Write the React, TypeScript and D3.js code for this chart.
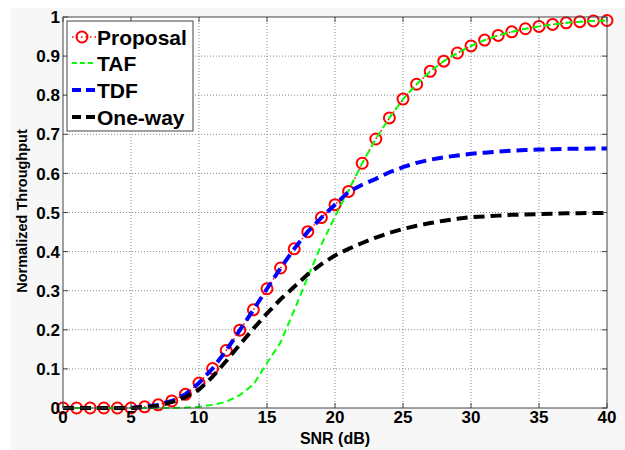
import React, { useEffect, useRef } from "react";
import * as d3 from "d3";

// SNR (dB) sample points
const snr = [
  0, 1, 2, 3, 4, 5, 6, 7, 8, 9, 10, 11, 12, 13, 14, 15, 16, 17, 18, 19, 20,
  21, 22, 23, 24, 25, 26, 27, 28, 29, 30, 31, 32, 33, 34, 35, 36, 37, 38, 39, 40,
];

const proposal = [
  0, 0, 0, 0, 0, 0, 0.003, 0.008, 0.018, 0.035, 0.064, 0.101, 0.147, 0.199,
  0.251, 0.305, 0.358, 0.407, 0.451, 0.487, 0.52, 0.554, 0.626, 0.688, 0.742,
  0.79, 0.828, 0.861, 0.887, 0.908, 0.926, 0.941, 0.953, 0.962, 0.97, 0.976,
  0.981, 0.985, 0.988, 0.99, 0.991,
];

const taf = [
  0, 0, 0, 0, 0, 0, 0, 0, 0, 0.001, 0.003, 0.008, 0.016, 0.033, 0.06, 0.115,
  0.168, 0.25, 0.335, 0.418, 0.49, 0.557, 0.626, 0.688, 0.742, 0.79, 0.828,
  0.861, 0.887, 0.908, 0.926, 0.941, 0.953, 0.962, 0.97, 0.976, 0.981, 0.985,
  0.988, 0.99, 0.991,
];

const tdf = [
  0, 0, 0, 0, 0, 0, 0.003, 0.008, 0.018, 0.035, 0.064, 0.101, 0.147, 0.199,
  0.251, 0.305, 0.358, 0.407, 0.451, 0.487, 0.52, 0.553, 0.571, 0.586, 0.603,
  0.616, 0.627, 0.635, 0.641, 0.646, 0.65, 0.653, 0.656, 0.658, 0.66, 0.661,
  0.662, 0.663, 0.663, 0.664, 0.664,
];

const oneWay = [
  0, 0, 0, 0, 0, 0, 0.002, 0.006, 0.015, 0.028, 0.047, 0.08, 0.12, 0.162,
  0.203, 0.242, 0.278, 0.31, 0.342, 0.368, 0.39, 0.407, 0.422, 0.436, 0.448,
  0.458, 0.466, 0.473, 0.479, 0.484, 0.488, 0.49, 0.492, 0.494, 0.495, 0.496,
  0.497, 0.498, 0.498, 0.499, 0.499,
];

const xTicks = [0, 5, 10, 15, 20, 25, 30, 35, 40];
const yTicks = [0, 0.1, 0.2, 0.3, 0.4, 0.5, 0.6, 0.7, 0.8, 0.9, 1];

const legendLabels = ["Proposal", "TAF", "TDF", "One-way"];

const App = () => {
  const ref = useRef<SVGSVGElement>(null);

  useEffect(() => {
    const svg = d3.select(ref.current);
    svg.selectAll("*").remove();
    const width = 625;
    const height = 450;
    const m = { left: 63, top: 17, right: 18, bottom: 42 };
    const w = width - m.left - m.right;
    const h = height - m.top - m.bottom;
    const font = "'Liberation Sans', Arial, sans-serif";
    const tickSize = 17;

    svg.append("rect").attr("width", width).attr("height", height).attr("fill", "#fff");
    svg
      .append("rect")
      .attr("x", 10)
      .attr("y", 8)
      .attr("width", width - 10)
      .attr("height", height - 8)
      .attr("fill", "#f7f7f7");

    const x = d3.scaleLinear().domain([0, 40]).range([0, w]);
    const y = d3.scaleLinear().domain([0, 1]).range([h, 0]);

    const g = svg.append("g").attr("transform", `translate(${m.left},${m.top})`);

    g.append("rect").attr("width", w).attr("height", h).attr("fill", "#fff");

    // grid
    g.selectAll(".gx")
      .data(xTicks.slice(1, -1))
      .enter()
      .append("line")
      .attr("x1", (d) => x(d))
      .attr("x2", (d) => x(d))
      .attr("y1", 0)
      .attr("y2", h)
      .attr("stroke", "#888")
      .attr("stroke-dasharray", "1,2");
    g.selectAll(".gy")
      .data(yTicks.slice(1, -1))
      .enter()
      .append("line")
      .attr("x1", 0)
      .attr("x2", w)
      .attr("y1", (d) => y(d))
      .attr("y2", (d) => y(d))
      .attr("stroke", "#888")
      .attr("stroke-dasharray", "1,2");

    const pts = (vals: number[]) => snr.map((s, i) => [s, vals[i]] as [number, number]);
    const line = d3
      .line<[number, number]>()
      .x((d) => x(d[0]))
      .y((d) => y(d[1]));

    // Proposal: dotted red with circle markers
    g.append("path")
      .attr("d", line(pts(proposal)))
      .attr("fill", "none")
      .attr("stroke", "#ff0000")
      .attr("stroke-width", 1.5)
      .attr("stroke-dasharray", "1.5,3");
    g.selectAll(".mk")
      .data(pts(proposal))
      .enter()
      .append("circle")
      .attr("cx", (d) => x(d[0]))
      .attr("cy", (d) => y(d[1]))
      .attr("r", 5.5)
      .attr("fill", "none")
      .attr("stroke", "#ff0000")
      .attr("stroke-width", 2);

    g.append("path")
      .attr("d", line(pts(taf)))
      .attr("fill", "none")
      .attr("stroke", "#00ff00")
      .attr("stroke-width", 2)
      .attr("stroke-dasharray", "7,4");

    g.append("path")
      .attr("d", line(pts(tdf)))
      .attr("fill", "none")
      .attr("stroke", "#0000ff")
      .attr("stroke-width", 4)
      .attr("stroke-dasharray", "11,6");

    g.append("path")
      .attr("d", line(pts(oneWay)))
      .attr("fill", "none")
      .attr("stroke", "#000")
      .attr("stroke-width", 4)
      .attr("stroke-dasharray", "11,6");

    // box + ticks
    g.append("rect")
      .attr("width", w)
      .attr("height", h)
      .attr("fill", "none")
      .attr("stroke", "#444")
      .attr("stroke-width", 1);

    const tl = 5;
    xTicks.forEach((t) => {
      g.append("line").attr("x1", x(t)).attr("x2", x(t)).attr("y1", h).attr("y2", h - tl).attr("stroke", "#444");
      g.append("line").attr("x1", x(t)).attr("x2", x(t)).attr("y1", 0).attr("y2", tl).attr("stroke", "#444");
      g.append("text")
        .attr("x", x(t))
        .attr("y", h + 15)
        .attr("text-anchor", "middle")
        .attr("font-family", font)
        .attr("font-weight", "bold")
        .attr("font-size", tickSize)
        .text(t);
    });
    yTicks.forEach((t) => {
      g.append("line").attr("x1", 0).attr("x2", tl).attr("y1", y(t)).attr("y2", y(t)).attr("stroke", "#444");
      g.append("line").attr("x1", w).attr("x2", w - tl).attr("y1", y(t)).attr("y2", y(t)).attr("stroke", "#444");
      g.append("text")
        .attr("x", -3)
        .attr("y", y(t))
        .attr("dy", "0.36em")
        .attr("text-anchor", "end")
        .attr("font-family", font)
        .attr("font-weight", "bold")
        .attr("font-size", tickSize)
        .text(t);
    });

    svg
      .append("text")
      .attr("x", m.left + w / 2)
      .attr("y", 444)
      .attr("text-anchor", "middle")
      .attr("font-family", font)
      .attr("font-weight", "bold")
      .attr("font-size", 16)
      .text("SNR (dB)");

    svg
      .append("text")
      .attr("transform", `translate(27,211) rotate(-90)`)
      .attr("text-anchor", "middle")
      .attr("font-family", font)
      .attr("font-weight", "bold")
      .attr("font-size", 14.5)
      .text("Normalized Throughput");

    // legend
    const lg = svg.append("g").attr("transform", "translate(67,21)");
    lg.append("rect")
      .attr("width", 126)
      .attr("height", 110)
      .attr("fill", "#fff")
      .attr("stroke", "#444");
    const rowY = [16, 42, 69, 96];
    const styles = [
      { c: "#ff0000", w: 1.5, dash: "1.5,3" },
      { c: "#00ff00", w: 2, dash: "5,3" },
      { c: "#0000ff", w: 4, dash: "9,5" },
      { c: "#000", w: 4, dash: "9,5" },
    ];
    legendLabels.forEach((lab, i) => {
      const s = styles[i];
      lg.append("line")
        .attr("x1", 5)
        .attr("x2", 29)
        .attr("y1", rowY[i])
        .attr("y2", rowY[i])
        .attr("stroke", s.c)
        .attr("stroke-width", s.w)
        .attr("stroke-dasharray", s.dash);
      if (i === 0) {
        lg.append("circle")
          .attr("cx", 15)
          .attr("cy", rowY[i])
          .attr("r", 5.5)
          .attr("fill", "none")
          .attr("stroke", "#ff0000")
          .attr("stroke-width", 2);
      }
      lg.append("text")
        .attr("x", 30)
        .attr("y", rowY[i])
        .attr("dy", "0.36em")
        .attr("font-family", font)
        .attr("font-weight", "bold")
        .attr("font-size", 21)
        .text(lab);
    });
  }, []);

  return (
    <svg
      ref={ref}
      width={625}
      height={450}
      style={{ position: "absolute", left: 0, top: 0 }}
    ></svg>
  );
};

export default App;
